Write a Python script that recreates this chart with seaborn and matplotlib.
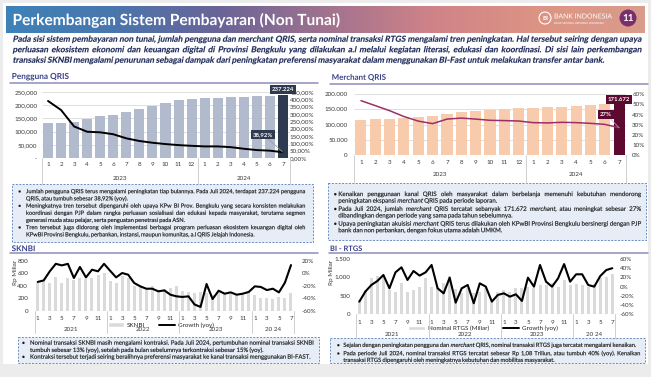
import numpy as np
import pandas as pd
import seaborn as sns
import matplotlib.pyplot as plt
import matplotlib.transforms as mtransforms
from matplotlib.colors import LinearSegmentedColormap
from matplotlib.patches import Rectangle, Circle, PathPatch
from matplotlib.lines import Line2D
from matplotlib.textpath import TextPath
from matplotlib.font_manager import FontProperties

W, H = 651, 377

# ---- data ----
qris_months = list(range(1, 13)) + list(range(1, 8))
qris_years = ['2023'] * 12 + ['2024'] * 7
qris_users = [131000, 133500, 136000, 147500, 158000, 164000, 173000, 184500, 197000, 209000,
              221000, 224000, 226500, 227500, 230000, 231500, 233500, 235500, 237224]
qris_growth = [389, 327, 215, 179, 175, 162, 134, 116, 104, 95, 88, 83, 79, 79, 74, 63, 54, 50, 38.92]

merchant_count = [115000, 118000, 119000, 121500, 124500, 129000, 135500, 141000, 145500, 148500,
                  151500, 155000, 156000, 157000, 159500, 162500, 166000, 168000, 171672]
merchant_growth = [53.7, 48.8, 43.8, 38, 33.5, 31, 35.5, 36.5, 35.5, 34.3, 34, 33.6,
                   32, 31.7, 32.3, 32, 31.3, 30.3, 27]

long_months = list(range(1, 13)) * 3 + list(range(1, 8))
long_years = ['2021'] * 12 + ['2022'] * 12 + ['2023'] * 12 + ['20 24'] * 7

sknbi_value = [450, 470, 440, 540, 450, 530, 490, 530, 500, 520, 570, 600,
               480, 440, 560, 520, 400, 380, 360, 390, 330, 340, 370, 400,
               320, 300, 280, 300, 290, 250, 300, 270, 260, 270, 270, 290,
               250, 210, 200, 180, 215, 210, 290]
sknbi_growth = [-14, -11.5, 3, 15, 12.5, 15, -7.7, 10, -6.7, 5.6, 3, 15,
                4, -6.7, 0.3, -2.4, -15.7, -21, -24.8, -24.8, -29, -27.5, -34.4, -37,
                -38, -37, -50, -54, -17.3, -41.3, -28, -32.8, -30.7, -34.4, -32.8, -30,
                -21, -22, -27, -24.8, -30.7, -15, 13]

rtgs_value = [390, 660, 980, 1050, 1070, 660, 610, 840, 600, 660, 750, 980,
              750, 700, 840, 1040, 680, 570, 700, 570, 610, 700, 340, 610,
              660, 610, 700, 720, 750, 700, 800, 800, 840, 750, 930, 800,
              810, 800, 750, 810, 980, 1020, 1080]
rtgs_growth = [-32.5, -10.8, 3.6, 12.3, 25.3, -3.6, 31, 42, 14.5, 34, 24, 31,
               47, -3.6, -14.5, 19.5, -34.7, -3.6, 3.6, -36, 7.2, 0, -32.5, -18,
               -14.5, -21.7, -16.6, -31, 19.5, 0, 47, 10.8, 0, 18, 49, 10.8,
               26.8, 26.8, 3.6, 0, 23, 36, 40]

intro_text = [[
    "Pada sisi sistem pembayaran non tunai, jumlah pengguna dan merchant QRIS, serta nominal transaksi RTGS mengalami tren peningkatan. Hal tersebut seiring dengan upaya",
    "perluasan ekosistem ekonomi dan keuangan digital di Provinsi Bengkulu yang dilakukan a.l melalui kegiatan literasi, edukasi dan koordinasi. Di sisi lain perkembangan",
    "transaksi SKNBI mengalami penurunan sebagai dampak dari peningkatan preferensi masyarakat dalam menggunakan BI-Fast untuk melakukan transfer antar bank."]]

qris_text = [
    ["Jumlah pengguna QRIS terus mengalami peningkatan tiap bulannya. Pada Juli 2024, terdapat 237.224 pengguna",
     "QRIS, atau tumbuh sebesar 38,92% (yoy)."],
    ["Meningkatnya tren tersebut dipengaruhi oleh upaya KPw BI Prov. Bengkulu yang secara konsisten melakukan",
     "koordinasi dengan PJP dalam rangka perluasan sosialisasi dan edukasi kepada masyarakat, terutama segmen",
     "generasi muda atau pelajar, serta penguatan penetrasi pada ASN."],
    ["Tren tersebut juga didorong oleh implementasi berbagai program perluasan ekosistem keuangan digital oleh",
     "KPwBI Provinsi Bengkulu, perbankan, instansi, maupun komunitas, a.l QRIS Jelajah Indonesia."]]

merchant_text = [
    ["Kenaikan penggunaan kanal QRIS oleh masyarakat dalam berbelanja memenuhi kebutuhan mendorong",
     "peningkatan ekspansi *merchant* QRIS pada periode laporan."],
    ["Pada Juli 2024, jumlah *merchant* QRIS tercatat sebanyak 171.672 *merchant*, atau meningkat sebesar 27%",
     "dibandingkan dengan periode yang sama pada tahun sebelumnya."],
    ["Upaya peningkatan akuisisi *merchant* QRIS terus dilakukan oleh KPwBI Provinsi Bengkulu bersinergi dengan PJP",
     "bank dan non perbankan, dengan fokus utama adalah UMKM."]]

sknbi_text = [
    ["Nominal transaksi SKNBI masih mengalami kontraksi. Pada Juli 2024, pertumbuhan nominal transaksi SKNBI",
     "tumbuh sebesar 13% (yoy), setelah pada bulan sebelumnya terkontraksi sebesar 15% (yoy)."],
    ["Kontraksi tersebut terjadi seiring beralihnya preferensi masyarakat ke kanal transaksi menggunakan BI-FAST."]]

rtgs_text = [
    ["Sejalan dengan peningkatan pengguna dan *merchant* QRIS, nominal transaksi RTGS juga tercatat mengalami kenaikan."],
    ["Pada periode Juli 2024, nominal transaksi RTGS tercatat sebesar Rp 1,08 Triliun, atau tumbuh 40% (yoy). Kenaikan",
     "transaksi RTGS dipengaruhi oleh meningkatnya kebutuhan dan mobilitas masyarakat."]]

sns.set_theme(style='white')
plt.rcParams['font.family'] = ['Lato', 'DejaVu Sans']

fig = plt.figure(figsize=(W / 100, H / 100), dpi=100)
fig.patch.set_facecolor('#ececec')

# background (pixel coords, y down)
bg = fig.add_axes([0, 0, 1, 1], zorder=0)
bg.set_xlim(0, W)
bg.set_ylim(H, 0)
bg.axis('off')
bg.add_patch(Rectangle((3, 3), 645, 361, fc='white', ec='none'))

# foreground overlay for texts / boxes
fg = fig.add_axes([0, 0, 1, 1], zorder=5)
fg.set_xlim(0, W)
fg.set_ylim(H, 0)
fg.axis('off')
fg.patch.set_visible(False)


def word_path(s, px, weight='normal'):
    fp = FontProperties(family='Lato', weight=weight)
    return TextPath((0, 0), s, size=px, prop=fp)


def draw_path(path, x, y, color, slant=0.0, lw=0.1):
    tr = (mtransforms.Affine2D().skew_deg(slant, 0).scale(1, -1).translate(x, y)
          + fg.transData)
    fg.add_patch(PathPatch(path, transform=tr, fc=color, ec=color, lw=lw))


def fit_text(x, y, s, width, color, weight='normal'):
    # single line scaled to a pixel width, y = visual centre
    px = 10 * width / word_path(s, 10, weight).get_extents().x1
    draw_path(word_path(s, px, weight), x, y + 0.36 * px, color, lw=0)


def text_block(paragraphs, x_left, x_right, ys, bullet_x=None, color='#141414',
               weight='normal', italic=False):
    # words drawn as paths so every word sits on the same baseline; full lines justified
    plain = [ln.replace('*', '') for p in paragraphs for ln in p]
    widest = max(word_path(ln, 10, weight).get_extents().x1 for ln in plain)
    px = 10 * (x_right - x_left) / widest
    space = word_path('n n', px, weight).get_extents().x1 - word_path('nn', px, weight).get_extents().x1
    drop = 0.33 * px
    k = 0
    for p in paragraphs:
        for j, ln in enumerate(p):
            y = ys[k] + drop
            k += 1
            if bullet_x is not None and j == 0:
                draw_path(word_path('\u2022', px), bullet_x, y, color)
            words, slants = [], []
            for wd in ln.split(' '):
                words.append(word_path(wd.replace('*', ''), px, weight))
                slants.append(11 if (italic or '*' in wd) else 0)
            widths = [w.get_extents().x1 for w in words]
            if j < len(p) - 1 and len(words) > 1:
                gap = (x_right - x_left - sum(widths)) / (len(words) - 1)
            else:
                gap = space
            x = x_left
            for w, wd, sl in zip(words, widths, slants):
                draw_path(w, x, y, color, slant=sl)
                x += wd + gap


def dashed_box(x0, y0, x1, y1):
    fg.add_patch(Rectangle((x0, y0), x1 - x0, y1 - y0, fc='#e6edf6', ec='#6a8cc0',
                           lw=0.7, ls=(0, (2, 1.5)), zorder=0))


def section_title(x, y, s, width, line_x1, line_y):
    fit_text(x, y, s, width, '#39408a', weight='bold')
    fg.plot([x - 1.5, line_x1], [line_y, line_y], color='#8d8dbd', lw=1.1)


def combo_chart(rect, months, years, bars, growth, bar_color, line_color, bar_w, line_w,
                yticks, ylabels, y2ticks, y2labels, pads, month_y, year_y, sep_bottom,
                label_step=1, grid=False, hi_color=None):
    x0, y0, x1, y1 = rect
    ax = fig.add_axes([x0 / W, 1 - y1 / H, (x1 - x0) / W, (y1 - y0) / H], zorder=2)
    ax.patch.set_visible(False)
    n = len(bars)
    df = pd.DataFrame({'idx': range(n), 'value': bars, 'growth': growth})
    sns.barplot(data=df, x='idx', y='value', color=bar_color, width=bar_w, saturation=1,
                native_scale=True, errorbar=None, linewidth=0, ax=ax)
    if hi_color:
        max(ax.patches, key=lambda b: b.get_x()).set_facecolor(hi_color)
    ax2 = ax.twinx()
    ax2.set_zorder(3)
    ax2.patch.set_visible(False)
    sns.lineplot(data=df, x='idx', y='growth', color=line_color, lw=line_w, ax=ax2)
    ax.set_xlim(-0.5, n - 0.5)
    ax.set_ylim(yticks[0], yticks[-1])
    ax2.set_ylim(y2ticks[0], y2ticks[-1])
    ax.set_yticks(yticks)
    ax.set_yticklabels(ylabels)
    ax2.set_yticks(y2ticks)
    ax2.set_yticklabels(y2labels)
    ax.set_xticks([])
    for a in (ax, ax2):
        a.set_xlabel('')
        a.set_ylabel('')
        for s in a.spines.values():
            s.set_visible(False)
    ax.tick_params(axis='y', length=0, pad=pads[0], labelsize=4.5, labelcolor='#3a3a3a')
    ax2.tick_params(axis='y', length=0, pad=pads[1], labelsize=4.5, labelcolor='#3a3a3a')
    if grid:
        ax.grid(axis='y', color='#d9d9d9', lw=0.6)
        ax.set_axisbelow(True)
    ax.axhline(yticks[0], color='#cfcfcf', lw=0.8, zorder=0)

    # multi-level category axis
    trans = mtransforms.blended_transform_factory(ax.transData, fg.transData)
    for i in range(0, n, label_step):
        fg.text(i, month_y, str(months[i]), transform=trans, ha='center', va='center',
                fontsize=4.5, color='#3a3a3a')
    bounds = [-0.5] + [i - 0.5 for i in range(1, n) if years[i] != years[i - 1]] + [n - 0.5]
    for b in bounds:
        fg.plot([b, b], [y1, sep_bottom], transform=trans, color='#c8c8c8', lw=0.6)
    for a, b in zip(bounds[:-1], bounds[1:]):
        fg.text((a + b) / 2, year_y, years[int(a + 1)], transform=trans, ha='center',
                va='center', fontsize=4.5, color='#3a3a3a')
    return ax, ax2


# ---- header ----
hdr = fig.add_axes([6 / W, 1 - 33 / H, 639 / W, 27 / H], zorder=1)
cmap = LinearSegmentedColormap.from_list('hdr', ['#3d82b9', '#4a76ad', '#6a6497', '#a0728f',
                                                  '#cf8388', '#dc9484', '#d99c8c'])
hdr.imshow(np.linspace(0, 1, 256)[None, :], aspect='auto', cmap=cmap, extent=[0, 1, 0, 1])
hdr.axis('off')
fit_text(12.5, 19.5, 'Perkembangan Sistem Pembayaran (Non Tunai)', 327, 'white', weight='bold')
fg.add_patch(Circle((545, 18), 6, fc='none', ec='white', lw=0.8))
fg.text(545, 18.3, 'BI', fontsize=4.5, color='white', fontweight='bold', ha='center', va='center')
fit_text(554, 16, 'BANK INDONESIA', 58, 'white')
fit_text(554, 23, 'BANK SENTRAL REPUBLIK INDONESIA', 50, 'white')
fg.add_patch(Circle((628, 18), 8.5, fc='#7b2f6a', ec='none'))
fg.text(628, 18.3, '11', fontsize=7, color='white', fontweight='bold', ha='center', va='center')

text_block(intro_text, 12.5, 641, [39, 49.5, 60], color='#1c2858', weight='bold', italic=True)

# ---- Pengguna QRIS ----
section_title(11.7, 76, 'Pengguna QRIS', 57, 318, 83)
ax, ax2 = combo_chart((41.5, 92, 289.5, 158), qris_months, qris_years, qris_users, qris_growth,
                      '#b2bacd', 'black', 0.77, 1.4,
                      list(range(0, 250001, 50000)),
                      ['-'] + [f'{v:,}' for v in range(50000, 250001, 50000)],
                      list(range(0, 451, 50)), [f'{v},00%' for v in range(0, 451, 50)],
                      (2.9, 0.3), 165, 178, 184, grid=True, hi_color='#2e3a4f')
ax.annotate(f'{qris_users[-1]:,}'.replace(',', '.'), xy=(len(qris_users) - 1, qris_users[-1]),
            xytext=(0, 3), textcoords='offset pixels', ha='center', va='bottom', fontsize=4.3,
            color='white', fontweight='bold', annotation_clip=False,
            bbox=dict(boxstyle='square,pad=0.35', fc='#2e3a4f', ec='none'))
ax2.annotate(f'{qris_growth[-1]:.2f}%'.replace('.', ','), xy=(len(qris_growth) - 1, qris_growth[-1]),
             xytext=(-20, 18), textcoords='offset pixels', ha='center', va='center', fontsize=4.3,
             color='white', fontweight='bold', annotation_clip=False,
             bbox=dict(boxstyle='square,pad=0.35', fc='#2e3a4f', ec='none'),
             arrowprops=dict(arrowstyle='-', color='#9a9a9a', lw=0.5, shrinkA=0, shrinkB=0))

# ---- Merchant QRIS ----
section_title(331.7, 77, 'Merchant QRIS', 54, 648, 84)
ax, ax2 = combo_chart((353.8, 94.3, 626.2, 155), qris_months, qris_years, merchant_count,
                      merchant_growth, '#f8cbad', '#9c2f66', 0.77, 1.1,
                      list(range(0, 200001, 50000)),
                      [f'{v:,}'.replace(',', '.') for v in range(0, 200001, 50000)],
                      list(range(0, 61, 10)), [f'{v}%' for v in range(0, 61, 10)],
                      (4.2, 4.3), 163, 174, 183, grid=True, hi_color='#5d0a30')
ax.annotate(f'{merchant_count[-1]:,}'.replace(',', '.'), xy=(len(merchant_count) - 1, merchant_count[-1]),
            xytext=(0, 1), textcoords='offset pixels', ha='center', va='bottom', fontsize=4.3,
            color='white', fontweight='bold', annotation_clip=False,
            bbox=dict(boxstyle='square,pad=0.35', fc='#5d0a30', ec='none'))
ax2.annotate(f'{merchant_growth[-1]:.0f}%', xy=(len(merchant_growth) - 1, merchant_growth[-1]),
             xytext=(-13, 13.5), textcoords='offset pixels', ha='center', va='center', fontsize=4.3,
             color='white', fontweight='bold', annotation_clip=False,
             bbox=dict(boxstyle='square,pad=0.35', fc='#5d0a30', ec='none'),
             arrowprops=dict(arrowstyle='-', color='#bbbbbb', lw=0.5, shrinkA=0, shrinkB=0))

dashed_box(11.7, 184, 313.3, 241.5)
text_block(qris_text, 26, 305, [191.3 + 7.2 * k for k in range(7)], bullet_x=18)
dashed_box(328, 183.3, 646, 240)
text_block(merchant_text, 338.3, 641, [194, 200.6, 208.8, 215.4, 223.6, 230.2], bullet_x=333.5)

# ---- SKNBI ----
section_title(11.7, 248.3, 'SKNBI', 23, 318, 253.3)
ax, ax2 = combo_chart((34.7, 260.7, 294, 310.7), long_months, long_years, sknbi_value, sknbi_growth,
                      '#dadada', 'black', 0.5, 1.5,
                      list(range(0, 801, 200)), [str(v) for v in range(0, 801, 200)],
                      list(range(-60, 21, 20)), [f'{v}%' for v in range(-60, 21, 20)],
                      (4.6, 5.5), 318.3, 329.3, 333, label_step=2)
fg.text(15, 272, 'Rp Miliar', rotation=90, fontsize=4.5, color='#3a3a3a', ha='center', va='center')
ax.legend([Rectangle((0, 0), 1, 1, fc='#dadada'), Line2D([], [], color='black', lw=1.4)],
          ['SKNBI', 'Growth (yoy)'], loc='center', bbox_to_anchor=(161 / W, 1 - 325 / H),
          bbox_transform=fig.transFigure, ncol=2, frameon=False, fontsize=4.5,
          handlelength=2.6, handleheight=0.7, columnspacing=2.2, handletextpad=0.5)

# ---- BI - RTGS ----
section_title(330, 248.3, 'BI - RTGS', 32, 648, 253.3)
ax, ax2 = combo_chart((356.3, 259, 615.3, 314.3), long_months, long_years, rtgs_value, rtgs_growth,
                      '#dadada', 'black', 0.5, 1.5,
                      list(range(0, 1501, 500)), [f'{v:,}'.replace(',', '.') for v in range(0, 1501, 500)],
                      list(range(-60, 61, 20)), [f'{v}%' for v in range(-60, 61, 20)],
                      (4, 3.4), 322.3, 334, 338, label_step=2)
fg.text(331.7, 272, 'Rp Miliar', rotation=90, fontsize=4.5, color='#3a3a3a', ha='center', va='center')
ax.legend([Rectangle((0, 0), 1, 1, fc='#dadada'), Line2D([], [], color='black', lw=1.4)],
          ['Nominal RTGS (Miliar)', 'Growth (yoy)'], loc='center', bbox_to_anchor=(483 / W, 1 - 328.3 / H),
          bbox_transform=fig.transFigure, ncol=2, frameon=False, fontsize=4.5,
          handlelength=2.6, handleheight=0.7, columnspacing=2.2, handletextpad=0.5)

dashed_box(18.3, 336.7, 319, 363.3)
text_block(sknbi_text, 30, 313.3, [342.7, 350, 356.7], bullet_x=21.7)
dashed_box(330, 338.3, 645, 363.3)
text_block(rtgs_text, 343.3, 640, [345, 353.3, 360], bullet_x=336.7)

fig.savefig('out.png', dpi=100, facecolor=fig.get_facecolor())
